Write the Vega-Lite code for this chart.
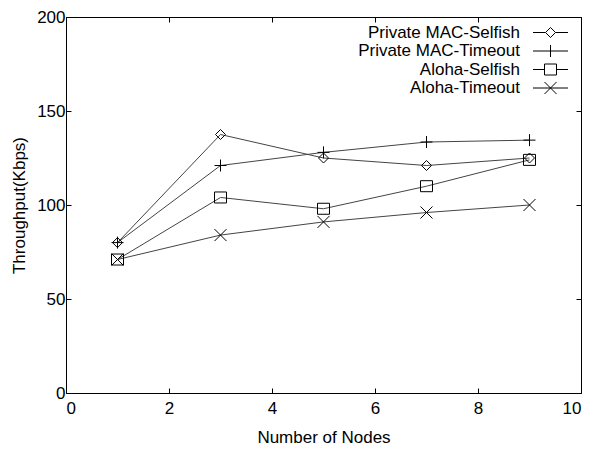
{
  "$schema": "https://vega.github.io/schema/vega-lite/v6.json",
  "width": 515,
  "height": 376,
  "autosize": {"type": "none"},
  "padding": {"left": 66, "top": 17, "right": 12, "bottom": 59},
  "config": {
    "font": "Liberation Sans",
    "view": {"stroke": "black", "strokeWidth": 1},
    "axis": {"grid": false, "domainColor": "black", "tickColor": "black", "labelColor": "black", "titleColor": "black", "labelFont": "Liberation Sans", "titleFont": "Liberation Sans", "labelFontSize": 17, "titleFontSize": 17, "titleFontWeight": "normal"}
  },
  "data": {
    "values": [
      {"series": "Private MAC-Selfish", "nodes": 1, "throughput": 80},
      {"series": "Private MAC-Selfish", "nodes": 3, "throughput": 137.5},
      {"series": "Private MAC-Selfish", "nodes": 5, "throughput": 125},
      {"series": "Private MAC-Selfish", "nodes": 7, "throughput": 121},
      {"series": "Private MAC-Selfish", "nodes": 9, "throughput": 125},
      {"series": "Private MAC-Timeout", "nodes": 1, "throughput": 80},
      {"series": "Private MAC-Timeout", "nodes": 3, "throughput": 121},
      {"series": "Private MAC-Timeout", "nodes": 5, "throughput": 128},
      {"series": "Private MAC-Timeout", "nodes": 7, "throughput": 133.5},
      {"series": "Private MAC-Timeout", "nodes": 9, "throughput": 134.5},
      {"series": "Aloha-Selfish", "nodes": 1, "throughput": 71},
      {"series": "Aloha-Selfish", "nodes": 3, "throughput": 104},
      {"series": "Aloha-Selfish", "nodes": 5, "throughput": 98},
      {"series": "Aloha-Selfish", "nodes": 7, "throughput": 110},
      {"series": "Aloha-Selfish", "nodes": 9, "throughput": 124},
      {"series": "Aloha-Timeout", "nodes": 1, "throughput": 71},
      {"series": "Aloha-Timeout", "nodes": 3, "throughput": 84},
      {"series": "Aloha-Timeout", "nodes": 5, "throughput": 91},
      {"series": "Aloha-Timeout", "nodes": 7, "throughput": 96},
      {"series": "Aloha-Timeout", "nodes": 9, "throughput": 100}
    ]
  },
  "resolve": {"axis": {"x": "independent", "y": "independent"}, "scale": {"shape": "independent"}},
  "layer": [
    {
      "mark": {"type": "line", "stroke": "#444", "strokeWidth": 1},
      "encoding": {
        "x": {"field": "nodes", "type": "quantitative", "scale": {"domain": [0, 10], "nice": false}, "axis": {"values": [0, 2, 4, 6, 8, 10], "title": "Number of Nodes", "tickSize": -5, "labelPadding": 12, "titlePadding": 13, "orient": "bottom"}},
        "y": {"field": "throughput", "type": "quantitative", "scale": {"domain": [0, 200], "nice": false}, "axis": {"values": [0, 50, 100, 150, 200], "title": "Throughput(Kbps)", "tickSize": -5, "labelPadding": 6, "titlePadding": 8, "orient": "left"}},
        "detail": {"field": "series"}
      }
    },
    {
      "mark": {"type": "point", "filled": false, "stroke": "black", "strokeWidth": 1, "size": 100, "opacity": 1},
      "encoding": {
        "x": {"field": "nodes", "type": "quantitative", "axis": {"orient": "top", "values": [0, 2, 4, 6, 8, 10], "labels": false, "title": null, "tickSize": -5, "domain": false}},
        "y": {"field": "throughput", "type": "quantitative", "axis": {"orient": "right", "values": [0, 50, 100, 150, 200], "labels": false, "title": null, "tickSize": -5, "domain": false}},
        "shape": {
          "field": "series",
          "type": "nominal",
          "scale": {
            "domain": ["Private MAC-Selfish", "Private MAC-Timeout", "Aloha-Selfish", "Aloha-Timeout"],
            "range": ["M0,-1L1,0L0,1L-1,0Z", "M-1.2,0H1.2M0,-1.2V1.2", "M-1.2,-1.1H1.2V1.1H-1.2Z", "M-1.2,-1.2L1.2,1.2M-1.2,1.2L1.2,-1.2"]
          },
          "legend": null
        }
      }
    },
    {
      "transform": [{"filter": "false"}],
      "mark": {"type": "point", "filled": false, "stroke": "black", "strokeWidth": 1, "size": 100},
      "encoding": {
        "x": {"field": "nodes", "type": "quantitative", "axis": null},
        "y": {"field": "throughput", "type": "quantitative", "axis": null},
        "shape": {
          "field": "series",
          "type": "nominal",
          "title": null,
          "scale": {
            "domain": ["Private MAC-Selfish", "Private MAC-Timeout", "Aloha-Selfish", "Aloha-Timeout"],
            "range": ["M-3.5,0H-1M1,0H3.5M0,-1L1,0L0,1L-1,0Z", "M-3.5,0H3.5M0,-1.2V1.2", "M-3.5,0H-1.2M1.2,0H3.5M-1.2,-1.1H1.2V1.1H-1.2Z", "M-3.5,0H3.5M-1.2,-1.2L1.2,1.2M-1.2,1.2L1.2,-1.2"]
          },
          "legend": {
            "title": null,
            "orient": "none",
            "legendX": 476,
            "legendY": 7,
            "padding": 0,
            "symbolSize": 100,
            "symbolStrokeColor": "black",
            "symbolFillColor": "transparent",
            "symbolStrokeWidth": 1,
            "symbolOpacity": 1,
            "labelFont": "Liberation Sans",
            "labelFontSize": 17,
            "labelColor": "black",
            "labelAlign": "right",
            "labelOffset": -39,
            "rowPadding": 0.5,
            "labelLimit": 300
          }
        }
      }
    }
  ]
}
